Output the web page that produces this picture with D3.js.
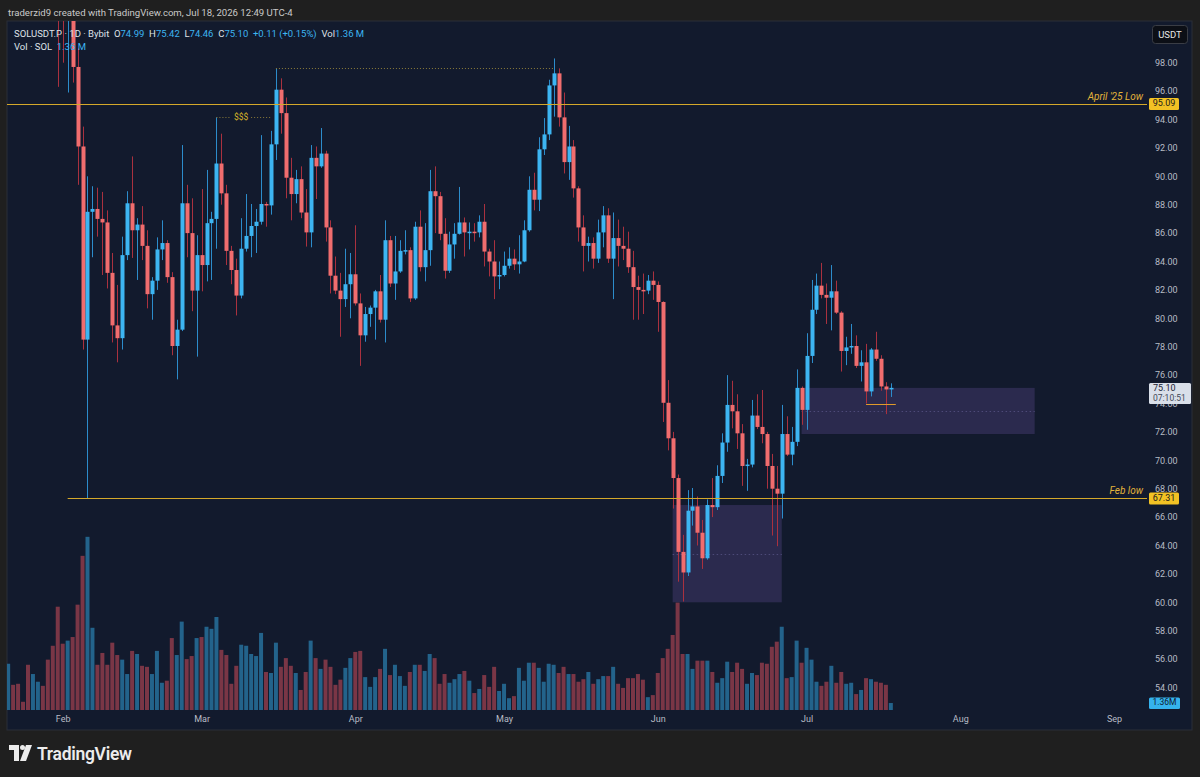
<!DOCTYPE html>
<html>
<head>
<meta charset="utf-8">
<script src="https://cdn.jsdelivr.net/npm/d3@7/dist/d3.min.js"></script>
<style>
  html, body { margin: 0; padding: 0; background: #1f1f1f; }
  #wrapper { width: 1200px; height: 777px; }
  text { font-family: Roboto, "Liberation Sans", sans-serif; }
</style>
</head>
<body>
<div id="wrapper"></div>
<script>
// daily candles SOLUSDT.P, first candle Jan 21 2026, last Jul 18 2026
const firstDay = Date.UTC(2026, 0, 21);

const opens = [128,129,123,119,117.5,111,114,116,109,104,
  102,101.2,101.0,102.0,97.7,92.1,78.5,87.5,87.7,87.0,
  86.75,83.2,79.5,78.6,84.45,88.1,86.2,86.6,85.1,81.7,
  82.65,84.85,85.3,82.9,78.05,79.2,88.1,86.0,81.95,84.45,
  83.75,86.7,87.0,90.9,88.8,84.75,83.4,81.6,84.9,85.8,
  86.5,86.8,88.05,87.95,92.25,96.1,94.45,89.9,88.75,89.8,
  87.45,86.05,91.3,90.7,91.6,86.4,83.0,81.95,81.35,82.4,
  83.1,81.05,78.8,80.3,80.75,81.9,79.9,85.5,82.45,83.3,
  84.75,84.8,81.4,86.45,83.6,84.8,88.95,88.6,85.95,83.35,
  85.2,85.95,86.75,86.05,86.1,86.05,86.8,84.7,84.0,82.95,
  83.05,83.7,84.2,83.8,84.0,86.2,89.05,88.35,91.9,92.95,
  96.4,97.25,94.15,91.0,92.1,89.15,86.4,85.1,85.3,84.2,
  86.05,87.25,84.2,85.65,85.1,84.9,83.6,82.2,82.0,81.95,
  82.65,82.35,81.15,74.05,71.55,68.75,63.55,62.1,66.45,66.75,
  64.9,63.1,66.85,66.7,68.9,71.25,73.9,73.45,71.9,69.6,
  69.7,73.15,72.35,71.85,69.6,68.0,67.65,71.85,70.4,71.3,
  75.1,73.55,77.35,80.6,82.3,81.65,81.45,81.9,80.4,77.7,
  77.95,78.05,76.65,76.9,74.85,77.8,77.15,75.2,74.99];

const highs = [131,130,125,121,119,116,118,117,110,105,
  103,102.5,103,103.5,99.0,93.5,90.0,89.3,89.2,88.9,
  87.6,84.6,82.35,85.75,88.95,91.4,87.05,87.9,86.2,82.9,
  85.7,86.9,85.5,83.25,79.9,92.2,89.4,88.45,85.85,89.1,
  90.45,87.5,94.15,93.0,89.4,85.1,84.2,87.05,88.75,88.05,
  87.7,92.9,88.2,93.2,97.6,96.9,95.55,91.3,90.45,90.7,
  89.1,92.2,92.1,93.4,91.8,86.9,84.35,83.2,84.9,84.6,
  86.55,81.75,80.8,80.9,82.0,83.05,86.9,85.8,85.8,85.5,
  86.2,85.0,86.8,87.6,86.7,90.45,90.7,88.9,87.05,86.1,
  86.7,89.25,87.1,86.75,86.7,87.25,88.05,84.9,85.5,84.0,
  84.7,85.0,84.85,85.85,86.9,90.0,90.25,92.75,94.1,96.8,
  98.3,97.6,95.9,93.55,92.55,89.3,87.25,85.75,85.7,86.95,
  87.9,87.75,87.45,86.95,86.45,86.1,84.75,83.0,83.15,83.05,
  83.3,82.6,81.2,75.65,72.0,69.0,64.75,67.9,68.05,67.45,
  65.8,67.25,68.75,69.65,71.9,76.0,75.6,74.65,72.55,70.1,
  74.25,74.65,74.95,72.0,70.45,69.6,73.9,73.1,72.35,76.4,
  75.2,78.95,82.7,83.15,83.9,82.45,83.75,82.65,80.5,78.7,
  79.6,78.8,77.75,78.2,77.9,79.05,77.4,75.5,75.42];

const lows = [125,122,118,116,110,110,112,108,103,101.5,
  96.3,98.0,95.9,96.6,89.4,77.8,67.31,84.3,85.75,83.05,
  82.1,78.3,76.9,77.8,84.1,84.25,82.7,84.1,80.7,79.9,
  82.0,84.1,82.5,77.4,75.7,79.1,84.3,80.5,77.3,81.9,
  82.6,82.7,84.9,88.0,83.75,82.4,80.2,81.4,84.7,84.3,
  84.6,86.6,86.45,87.3,91.15,93.0,88.45,86.9,88.1,87.05,
  85.05,85.0,88.4,90.6,85.4,81.75,81.7,78.7,80.8,80.0,
  80.9,76.65,78.35,79.4,78.5,79.7,78.3,82.2,81.3,83.2,
  84.5,81.15,81.3,83.3,82.6,83.7,86.0,85.5,82.8,83.2,
  84.2,85.9,84.35,84.85,85.4,85.7,83.65,82.95,81.35,82.05,
  82.95,83.5,83.4,83.15,83.95,86.1,87.6,87.55,91.5,92.55,
  94.2,93.5,90.2,89.75,88.5,85.4,83.3,84.0,83.5,83.9,
  85.0,83.9,81.35,83.65,84.1,83.2,79.9,79.9,80.3,81.7,
  81.3,79.05,72.7,70.7,66.6,61.45,60.05,61.85,65.4,64.0,
  62.35,63.0,66.0,66.5,68.4,70.6,72.25,70.8,68.2,67.85,
  69.5,72.2,71.2,68.0,64.7,63.95,65.9,70.3,69.65,71.0,
  72.5,72.15,76.85,80.3,81.4,79.6,79.15,80.3,76.25,76.7,
  77.5,76.5,75.55,74.0,74.5,77.0,74.9,73.25,74.46];

const closes = [129,123,119,117.5,111,114,116,109,104,102,
  101.2,101.0,102.0,97.7,92.1,78.5,87.5,87.7,87.0,86.75,
  83.2,79.5,78.6,84.45,88.1,86.2,86.6,85.1,81.7,82.65,
  84.85,85.3,82.9,78.05,79.2,88.1,86.0,81.95,84.45,83.75,
  86.7,87.0,90.9,88.8,84.75,83.4,81.6,84.9,85.8,86.5,
  86.8,88.05,87.95,92.25,96.1,94.45,89.9,88.75,89.8,87.45,
  86.05,91.3,90.7,91.6,86.4,83.0,81.95,81.35,82.4,83.1,
  81.05,78.8,80.3,80.75,81.9,79.9,85.5,82.45,83.3,84.75,
  84.8,81.4,86.45,83.6,84.8,88.95,88.6,85.95,83.35,85.2,
  85.95,86.75,86.05,86.1,86.05,86.8,84.7,84.0,82.95,83.05,
  83.7,84.2,83.8,84.0,86.2,89.05,88.35,91.9,92.95,96.4,
  97.25,94.15,91.0,92.1,89.15,86.4,85.1,85.3,84.2,86.05,
  87.25,84.2,85.65,85.1,84.9,83.6,82.2,82.0,81.95,82.65,
  82.35,81.15,74.05,71.55,68.75,63.55,62.1,66.45,66.75,64.9,
  63.1,66.85,66.7,68.9,71.25,73.9,73.45,71.9,69.6,69.7,
  73.15,72.35,71.85,69.6,68.0,67.65,71.85,70.4,71.3,75.1,
  73.55,77.35,80.6,82.3,81.65,81.45,81.9,80.4,77.7,77.95,
  78.05,76.65,76.9,74.85,77.8,77.15,75.2,74.99,75.10];

// volume in millions of SOL
const volumes = [9.0,4.9,5.1,1.6,8.8,7.0,5.5,4.7,9.8,12.5,
  20.1,12.9,13.5,14.2,20.5,30.0,33.7,16.0,8.8,11.1,
  8.8,13.1,10.7,9.8,7.0,11.5,10.9,8.6,8.4,7.0,
  11.5,5.3,5.7,14.0,10.7,17.2,9.9,10.5,14.0,14.2,
  16.2,15.8,18.1,11.7,10.7,5.1,8.6,12.7,12.5,10.9,
  10.5,15.0,7.4,7.2,13.1,8.4,10.1,8.6,7.2,3.9,
  7.4,13.5,10.1,8.0,9.8,8.4,4.9,5.9,8.2,10.1,
  11.3,11.5,6.4,4.5,6.4,8.0,11.9,6.8,8.8,6.6,
  4.7,7.4,8.8,8.8,7.6,10.9,10.1,5.1,7.0,5.3,
  6.0,7.0,7.6,5.7,3.3,4.1,6.8,4.5,8.4,3.7,
  5.1,2.3,2.7,8.2,5.7,9.2,9.2,8.2,5.5,9.0,
  8.8,7.2,8.4,7.0,7.0,5.5,6.0,7.4,5.1,6.0,
  6.6,6.6,8.4,5.1,4.3,6.2,6.2,7.0,5.9,2.5,
  2.9,7.2,10.1,11.9,14.6,20.9,10.9,10.9,8.0,9.6,
  9.6,9.6,7.4,5.3,6.2,9.4,7.4,9.2,8.0,5.1,
  7.2,6.8,9.2,9.0,12.3,13.3,16.2,6.2,6.4,13.5,
  9.2,12.1,9.8,5.5,4.7,5.5,8.6,5.3,7.4,5.1,
  5.3,3.1,3.9,6.2,6.0,5.5,5.3,4.9,1.36];

const priceTicks = d3.range(54, 99, 2);
const monthTicks = ["Feb", "Mar", "Apr", "May", "Jun", "Jul", "Aug", "Sep"];

// horizontal levels drawn on the chart
const levelNames = ["April '25 Low", "Feb low"];
const levelPrices = [95.09, 67.31];
const levelStartDays = [0, 12];

// zones (day index start/end, price bottom/top)
const zoneStart = [134, 160];
const zoneEnd = [156, 207];
const zoneLow = [60.0, 71.85];
const zoneHigh = [66.85, 75.1];

async function drawChart() {

  // 1. Data
  const dataset = opens.map((o, i) => ({
    date: new Date(d3.utcDay.offset(new Date(firstDay), i)),
    open: o, high: highs[i], low: lows[i], close: closes[i], volume: volumes[i]
  }));
  const xAccessor = d => d.date;
  const isUp = d => d.close >= d.open;
  const last = dataset[dataset.length - 1];

  // 2. Dimensions
  const dimensions = {
    width: 1200,
    height: 777,
    pane: { left: 7, top: 21, right: 1192, bottom: 730 },
    plotRight: 1147,
    plotBottom: 711,
  };

  const colors = {
    bg: "#1f1f1f",
    pane: "#121a2d",
    up: "#3db5f2",
    down: "#f06d6e",
    upWick: "#2c8ccb",
    downWick: "#a9313f",
    upVol: "#23638b",
    downVol: "#7a3646",
    level: "#d4a82a",
    text: "#b8bcc6",
  };

  // 3. Canvas
  const wrapper = d3.select("#wrapper")
    .append("svg")
    .attr("width", dimensions.width)
    .attr("height", dimensions.height);

  wrapper.append("rect")
    .attr("width", dimensions.width)
    .attr("height", dimensions.height)
    .attr("fill", colors.bg);

  wrapper.append("rect")
    .attr("x", dimensions.pane.left)
    .attr("y", dimensions.pane.top)
    .attr("width", dimensions.pane.right - dimensions.pane.left)
    .attr("height", dimensions.pane.bottom - dimensions.pane.top)
    .attr("fill", colors.pane)
    .attr("stroke", "#2a2e39");

  wrapper.append("clipPath").attr("id", "plot-clip")
    .append("rect")
    .attr("x", dimensions.pane.left)
    .attr("y", dimensions.pane.top)
    .attr("width", dimensions.plotRight - dimensions.pane.left)
    .attr("height", dimensions.plotBottom - dimensions.pane.top);

  const bounds = wrapper.append("g").attr("clip-path", "url(#plot-clip)");

  // 4. Scales
  const xScale = d3.scaleUtc()
    .domain([new Date(Date.UTC(2026, 1, 1)), new Date(Date.UTC(2026, 8, 1))])
    .range([62.7, 1114]);

  const yScale = d3.scaleLinear()
    .domain([54, 98])
    .range([687.5, 62.7]);

  const volScale = d3.scaleLinear()
    .domain([0, 36])
    .range([710, 525]);

  const dayX = i => xScale(d3.utcDay.offset(new Date(firstDay), i));

  // 5. Draw data
  // volume
  bounds.selectAll(".vol")
    .data(dataset)
    .enter().append("rect")
    .attr("class", "vol")
    .attr("x", d => xScale(xAccessor(d)) - 2)
    .attr("width", 4)
    .attr("y", d => volScale(d.volume))
    .attr("height", d => volScale(0) - volScale(d.volume))
    .attr("fill", d => isUp(d) ? colors.upVol : colors.downVol);

  // zones
  const zones = zoneStart.map((s, i) => ({ s, e: zoneEnd[i], lo: zoneLow[i], hi: zoneHigh[i] }));
  bounds.selectAll(".zone")
    .data(zones)
    .enter().append("rect")
    .attr("class", "zone")
    .attr("x", d => dayX(d.s))
    .attr("width", d => dayX(d.e) - dayX(d.s))
    .attr("y", d => yScale(d.hi))
    .attr("height", d => yScale(d.lo) - yScale(d.hi))
    .attr("fill", "rgba(118, 92, 178, 0.25)");

  bounds.selectAll(".zone-mid")
    .data(zones)
    .enter().append("line")
    .attr("class", "zone-mid")
    .attr("x1", d => dayX(d.s))
    .attr("x2", d => dayX(d.e))
    .attr("y1", d => Math.round(yScale((d.lo + d.hi) / 2)) + 0.5)
    .attr("y2", d => Math.round(yScale((d.lo + d.hi) / 2)) + 0.5)
    .attr("stroke", "#4d4a78")
    .attr("stroke-dasharray", "1.5,2.5");

  // wicks
  bounds.selectAll(".wick")
    .data(dataset)
    .enter().append("line")
    .attr("class", "wick")
    .attr("x1", d => Math.round(xScale(xAccessor(d))) + 0.5)
    .attr("x2", d => Math.round(xScale(xAccessor(d))) + 0.5)
    .attr("y1", d => yScale(d.high))
    .attr("y2", d => yScale(d.low))
    .attr("stroke", d => isUp(d) ? colors.upWick : colors.downWick)
    .attr("stroke-width", 1);

  // bodies
  bounds.selectAll(".body")
    .data(dataset)
    .enter().append("rect")
    .attr("class", "body")
    .attr("x", d => Math.round(xScale(xAccessor(d))) - 1.5)
    .attr("width", 4)
    .attr("y", d => yScale(Math.max(d.open, d.close)))
    .attr("height", d => Math.max(1.5, Math.abs(yScale(d.open) - yScale(d.close))))
    .attr("fill", d => isUp(d) ? colors.up : colors.down);

  // horizontal levels
  levelPrices.forEach((p, i) => {
    bounds.append("line")
      .attr("x1", levelStartDays[i] === 0 ? dimensions.pane.left : dayX(levelStartDays[i]))
      .attr("x2", dimensions.plotRight)
      .attr("y1", Math.round(yScale(p)) + 0.5)
      .attr("y2", Math.round(yScale(p)) + 0.5)
      .attr("stroke", colors.level)
      .attr("stroke-width", 1);

    bounds.append("text")
      .attr("x", 1143)
      .attr("y", yScale(p) - 7)
      .attr("text-anchor", "end")
      .attr("dominant-baseline", "middle")
      .attr("font-size", 10)
      .attr("font-style", "italic")
      .attr("fill", "#e2b43a")
      .text(levelNames[i]);
  });

  // equal highs dotted line (Mar 16 high to May 11 high)
  bounds.append("line")
    .attr("x1", dayX(54)).attr("x2", dayX(110))
    .attr("y1", Math.round(yScale(highs[54])) + 0.5)
    .attr("y2", Math.round(yScale(highs[54])) + 0.5)
    .attr("stroke", "#8a7a3a")
    .attr("stroke-dasharray", "1,2");

  // $$$ liquidity marker
  const liqY = Math.round(yScale(highs[42])) + 0.5;
  bounds.append("line")
    .attr("x1", dayX(42)).attr("x2", dayX(45))
    .attr("y1", liqY).attr("y2", liqY)
    .attr("stroke", "#8a7a3a").attr("stroke-dasharray", "1,2");
  bounds.append("line")
    .attr("x1", dayX(49)).attr("x2", dayX(53))
    .attr("y1", liqY).attr("y2", liqY)
    .attr("stroke", "#8a7a3a").attr("stroke-dasharray", "1,2");
  bounds.append("text")
    .attr("x", dayX(47))
    .attr("y", liqY)
    .attr("text-anchor", "middle")
    .attr("dominant-baseline", "middle")
    .attr("font-size", 8.5)
    .attr("fill", "#d8b428")
    .text("$$$");

  // small low marker near the last candles
  bounds.append("line")
    .attr("x1", dayX(173)).attr("x2", dayX(179))
    .attr("y1", Math.round(yScale(lows[173])) + 0.5)
    .attr("y2", Math.round(yScale(lows[173])) + 0.5)
    .attr("stroke", "#e09a2a");

  // 6. Peripherals
  const yAxisGenerator = d3.axisRight()
    .scale(yScale)
    .tickValues(priceTicks)
    .tickSize(0)
    .tickPadding(0)
    .tickFormat(d3.format(".2f"));

  const yAxis = wrapper.append("g")
    .attr("class", "y-axis")
    .attr("transform", "translate(1155,0)")
    .call(yAxisGenerator);
  yAxis.select(".domain").remove();
  yAxis.selectAll("text")
    .attr("font-size", 9)
    .attr("font-family", "Roboto, sans-serif")
    .attr("fill", colors.text);

  const xAxisGenerator = d3.axisBottom()
    .scale(xScale)
    .ticks(d3.utcMonth.every(1))
    .tickSize(0)
    .tickPadding(5)
    .tickFormat((d, i) => monthTicks[i]);

  const xAxis = wrapper.append("g")
    .attr("class", "x-axis")
    .attr("transform", `translate(0,${dimensions.plotBottom})`)
    .call(xAxisGenerator);
  xAxis.select(".domain").remove();
  xAxis.selectAll("text")
    .attr("font-size", 9)
    .attr("font-family", "Roboto, sans-serif")
    .attr("fill", colors.text);

  // price tags on the axis
  levelPrices.forEach(p => {
    const ty = yScale(p);
    wrapper.append("rect")
      .attr("x", 1149).attr("y", ty - 6)
      .attr("width", 30).attr("height", 12)
      .attr("rx", 1.5)
      .attr("fill", "#f2c224");
    wrapper.append("text")
      .attr("x", 1164).attr("y", ty)
      .attr("text-anchor", "middle")
      .attr("dominant-baseline", "middle")
      .attr("font-size", 9)
      .attr("fill", "#1a1a1a")
      .text(d3.format(".2f")(p));
  });

  // last price tag
  const lastY = yScale(last.close);
  wrapper.append("rect")
    .attr("x", 1149).attr("y", lastY - 5)
    .attr("width", 42).attr("height", 21)
    .attr("rx", 1.5)
    .attr("fill", "#d9dfe9");
  wrapper.append("text")
    .attr("x", 1153).attr("y", lastY + 3)
    .attr("font-size", 9)
    .attr("fill", "#1b2233")
    .text(d3.format(".2f")(last.close));
  wrapper.append("text")
    .attr("x", 1153).attr("y", lastY + 13)
    .attr("font-size", 8.5)
    .attr("fill", "#3f4757")
    .text("07:10:51");

  // last volume tag
  const volY = volScale(last.volume);
  wrapper.append("rect")
    .attr("x", 1149).attr("y", volY - 5.5)
    .attr("width", 31).attr("height", 11.5)
    .attr("rx", 1.5)
    .attr("fill", "#35b3ee");
  wrapper.append("text")
    .attr("x", 1164.5).attr("y", volY)
    .attr("text-anchor", "middle")
    .attr("dominant-baseline", "middle")
    .attr("font-size", 8.5)
    .attr("fill", "#10202e")
    .text("1.36M");

  // currency button
  wrapper.append("rect")
    .attr("x", 1152.5).attr("y", 25.5)
    .attr("width", 35).attr("height", 18)
    .attr("rx", 3)
    .attr("fill", "#0c0f16")
    .attr("stroke", "#3a3d45");
  wrapper.append("text")
    .attr("x", 1170).attr("y", 35)
    .attr("text-anchor", "middle")
    .attr("dominant-baseline", "middle")
    .attr("font-size", 9.5)
    .attr("fill", "#e6e6e6")
    .text("USDT");

  // header
  wrapper.append("text")
    .attr("x", 8).attr("y", 16)
    .attr("font-size", 9.6)
    .attr("fill", "#c9c9c9")
    .text("traderzid9 created with TradingView.com, Jul 18, 2026 12:49 UTC-4");

  const fmt = d3.format(".2f");
  const legend = wrapper.append("text")
    .attr("x", 14).attr("y", 37)
    .attr("font-size", 9.5)
    .attr("xml:space", "preserve")
    .attr("fill", "#dfe2e8");
  const legendParts = [
    ["SOLUSDT.P · 1D · Bybit  O", null], [fmt(last.open), colors.up],
    ["  H", null], [fmt(last.high), colors.up],
    ["  L", null], [fmt(last.low), colors.up],
    ["  C", null], [fmt(last.close), colors.up],
    ["  +0.11 (+0.15%)", colors.up],
    ["  Vol", null], ["1.36 M", colors.up],
  ];
  legendParts.forEach(([t, c]) => {
    legend.append("tspan")
      .attr("fill", c || "#dfe2e8")
      .text(t);
  });

  const volLegend = wrapper.append("text")
    .attr("x", 14).attr("y", 50)
    .attr("font-size", 9.5)
    .attr("xml:space", "preserve")
    .attr("fill", "#dfe2e8");
  volLegend.append("tspan").text("Vol · SOL  ");
  volLegend.append("tspan").attr("fill", colors.up).text("1.36 M");

  // TradingView logo
  const logo = wrapper.append("g").attr("transform", "translate(9,745)");
  logo.append("path")
    .attr("d", "M0,0 H10 V16 H5 V5 H0 Z")
    .attr("fill", "#ececec");
  logo.append("circle")
    .attr("cx", 13.5).attr("cy", 2.5).attr("r", 2.5)
    .attr("fill", "#ececec");
  logo.append("path")
    .attr("d", "M17,0 H23 L17,16 H11 Z")
    .attr("fill", "#ececec");
  wrapper.append("text")
    .attr("x", 37).attr("y", 760)
    .attr("font-size", 17.5)
    .attr("font-weight", 600)
    .attr("letter-spacing", -0.3)
    .attr("font-family", "Inter, Roboto, sans-serif")
    .attr("fill", "#ececec")
    .text("TradingView");
}
drawChart()
</script>
</body>
</html>
